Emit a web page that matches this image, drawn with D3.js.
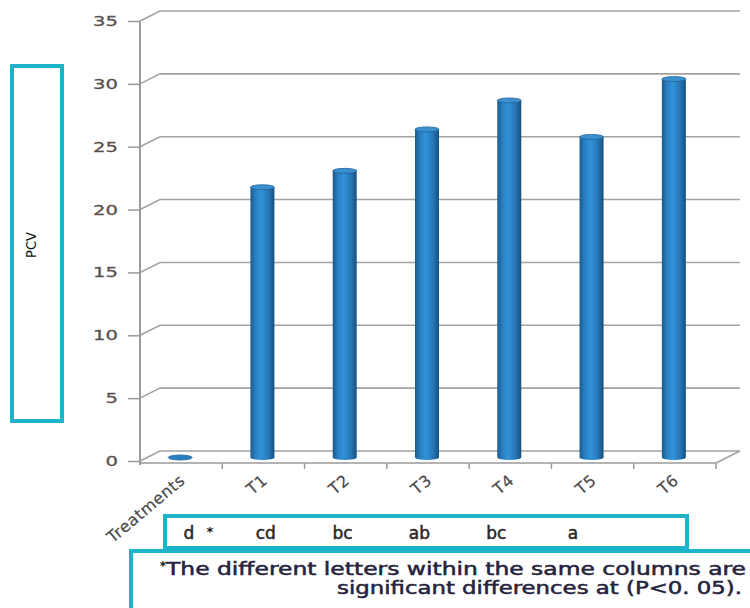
<!DOCTYPE html>
<html>
<head>
<meta charset="utf-8">
<script src="https://cdn.jsdelivr.net/npm/d3@7"></script>
<style>
  body { margin: 0; background: #fff; }
  svg { display: block; font-family: "DejaVu Sans", sans-serif; }
</style>
</head>
<body>
<div id="chart"></div>
<script>
// data
var categories = ['Treatments', 'T1', 'T2', 'T3', 'T4', 'T5', 'T6']
var pcv = [0, 21.5, 22.8, 26.1, 28.4, 25.5, 30.1]
var yTicks = [0, 5, 10, 15, 20, 25, 30, 35]
var letters = ['d', 'cd', 'bc', 'ab', 'bc', 'a']
var noteLines = ['The different letters within the same columns are',
  'significant differences at (P<0. 05).']

var width = 750
var height = 608
var cyan = '#1db4c9'
var gridColor = '#a3a3a3'

// depth of the fake 3d box
var depthX = 20
var depthY = -10

var svg = d3.select('#chart').append('svg')
  .attr('width', width).attr('height', height)

var x = d3.scaleBand().domain(categories).range([140, 716]).padding(0)
var y = d3.scaleLinear().domain([0, 35]).range([461, 21])

var defs = svg.append('defs')
var grad = defs.append('linearGradient').attr('id', 'cyl')
  .attr('x1', '0%').attr('x2', '100%').attr('y1', '0%').attr('y2', '0%')
grad.append('stop').attr('offset', '0%').attr('stop-color', '#1b5a8c')
grad.append('stop').attr('offset', '22%').attr('stop-color', '#2a80c3')
grad.append('stop').attr('offset', '45%').attr('stop-color', '#3292d8')
grad.append('stop').attr('offset', '75%').attr('stop-color', '#2677b8')
grad.append('stop').attr('offset', '100%').attr('stop-color', '#17507f')

// back wall gridlines + left wall diagonals
var backRight = x.range()[1] + 24
svg.append('g').selectAll('path')
  .data(yTicks)
  .enter()
  .append('path')
  .attr('d', (d) => `M140,${y(d)}L${140 + depthX},${y(d) + depthY}L${backRight},${y(d) + depthY}`)
  .attr('fill', 'none')
  .attr('stroke', gridColor)
  .attr('stroke-width', 1.6)

// floor right edge and front edge
var front = y(0) + 2
svg.append('path')
  .attr('d', `M${x.range()[1]},${front}L${backRight},${y(0) + depthY}`)
  .attr('fill', 'none').attr('stroke', gridColor).attr('stroke-width', 1.6)

// y axis
var yAxis = d3.axisLeft(y).tickValues(yTicks).tickSize(12).tickSizeOuter(0)
var gy = svg.append('g').attr('transform', 'translate(140,0)').call(yAxis)
gy.select('.domain').remove()
gy.append('line').attr('x1', 0).attr('x2', 0).attr('y1', y(35)).attr('y2', front + 2)
  .attr('stroke', '#9a9a9a').attr('stroke-width', 2)
gy.selectAll('.tick line').attr('stroke', '#9a9a9a').attr('stroke-width', 1.5)
gy.selectAll('.tick text')
  .attr('x', -22 / 1.4)
  .attr('transform', 'scale(1.4,1)')
  .attr('font-size', 14)
  .attr('font-family', '"DejaVu Sans", sans-serif')
  .attr('fill', '#5a5250')
  .attr('stroke', '#5a5250')
  .attr('stroke-width', 0.3)

// x axis line and ticks at band edges
var gx = svg.append('g')
gx.append('line').attr('x1', 140).attr('x2', x.range()[1]).attr('y1', front).attr('y2', front)
  .attr('stroke', '#9a9a9a').attr('stroke-width', 1.6)
gx.selectAll('.xt')
  .data(categories.slice(1).concat(['end']))
  .enter()
  .append('line')
  .attr('class', 'xt')
  .attr('x1', (d) => d === 'end' ? x.range()[1] : x(d))
  .attr('x2', (d) => d === 'end' ? x.range()[1] : x(d))
  .attr('y1', front).attr('y2', front + 6)
  .attr('stroke', '#9a9a9a').attr('stroke-width', 1.5)

gx.selectAll('.xl')
  .data(categories)
  .enter()
  .append('text')
  .attr('class', 'xl')
  .attr('transform', (d) => `translate(${x(d) + x.bandwidth() / 2 + 5},${front + 19}) rotate(-40)`)
  .attr('text-anchor', 'end')
  .attr('font-size', 16)
  .attr('letter-spacing', 0.6)
  .attr('fill', '#4a4a4a')
  .attr('stroke', '#4a4a4a')
  .attr('stroke-width', 0.2)
  .text((d) => d)

// cylinders
var barW = 24
var ry = 2.5
var off = -3.5
var bars = svg.append('g').selectAll('g')
  .data(categories.map((c, i) => ({ c: c, v: pcv[i] })))
  .enter()
  .append('g')

var cx = (d) => x(d.c) + x.bandwidth() / 2 - 1

bars.filter((d) => d.v > 0)
  .append('path')
  .attr('d', (d) => {
    var l = cx(d) - barW / 2
    var r = cx(d) + barW / 2
    var top = y(d.v) + off
    var bot = y(0) + off
    return `M${l},${top}L${l},${bot}A${barW / 2},${ry} 0 0 0 ${r},${bot}L${r},${top}Z`
  })
  .attr('fill', 'url(#cyl)')

bars.append('ellipse')
  .attr('cx', cx)
  .attr('cy', (d) => y(d.v) + off)
  .attr('rx', barW / 2)
  .attr('ry', ry)
  .attr('fill', (d) => d.v > 0 ? '#3a8fcf' : '#2a7fc1')
  .attr('stroke', '#1f6399')
  .attr('stroke-width', 0.8)

// PCV label box
svg.append('rect')
  .attr('x', 12).attr('y', 66).attr('width', 50).attr('height', 355)
  .attr('fill', 'none').attr('stroke', cyan).attr('stroke-width', 4)
svg.append('text')
  .attr('transform', 'translate(36,245) rotate(-90)')
  .attr('text-anchor', 'middle')
  .attr('font-size', 14)
  .attr('textLength', 26)
  .attr('lengthAdjust', 'spacingAndGlyphs')
  .attr('fill', '#111')
  .text('PCV')

// letters box
svg.append('rect')
  .attr('x', 165).attr('y', 516).attr('width', 522).attr('height', 32)
  .attr('fill', 'none').attr('stroke', cyan).attr('stroke-width', 4)

var lx = d3.scalePoint().domain(d3.range(letters.length)).range([189, 573])
svg.append('g').selectAll('text')
  .data(letters)
  .enter()
  .append('text')
  .attr('x', (d, i) => lx(i))
  .attr('y', 539)
  .attr('text-anchor', 'middle')
  .attr('font-size', 17)
  .attr('fill', '#2a2626')
  .attr('stroke', '#2a2626')
  .attr('stroke-width', 0.5)
  .text((d) => d)
svg.append('text')
  .attr('x', 210).attr('y', 536)
  .attr('text-anchor', 'middle')
  .attr('font-size', 13)
  .attr('font-weight', 'bold')
  .attr('fill', '#111')
  .text('*')

// footnote box
svg.append('rect')
  .attr('x', 131).attr('y', 551).attr('width', 660).attr('height', 100)
  .attr('fill', 'none').attr('stroke', cyan).attr('stroke-width', 4)
svg.append('text')
  .attr('x', 163).attr('y', 570)
  .attr('text-anchor', 'middle')
  .attr('font-size', 12)
  .attr('font-weight', 'bold')
  .attr('fill', '#111')
  .text('*')
svg.append('text')
  .attr('x', 166).attr('y', 575)
  .attr('font-size', 17)
  .attr('textLength', 580)
  .attr('lengthAdjust', 'spacingAndGlyphs')
  .attr('fill', '#25233d')
  .attr('stroke', '#25233d')
  .attr('stroke-width', 0.5)
  .text(noteLines[0])
svg.append('text')
  .attr('x', 337).attr('y', 594)
  .attr('font-size', 17)
  .attr('textLength', 405)
  .attr('lengthAdjust', 'spacingAndGlyphs')
  .attr('fill', '#25233d')
  .attr('stroke', '#25233d')
  .attr('stroke-width', 0.5)
  .text(noteLines[1])
</script>
</body>
</html>
